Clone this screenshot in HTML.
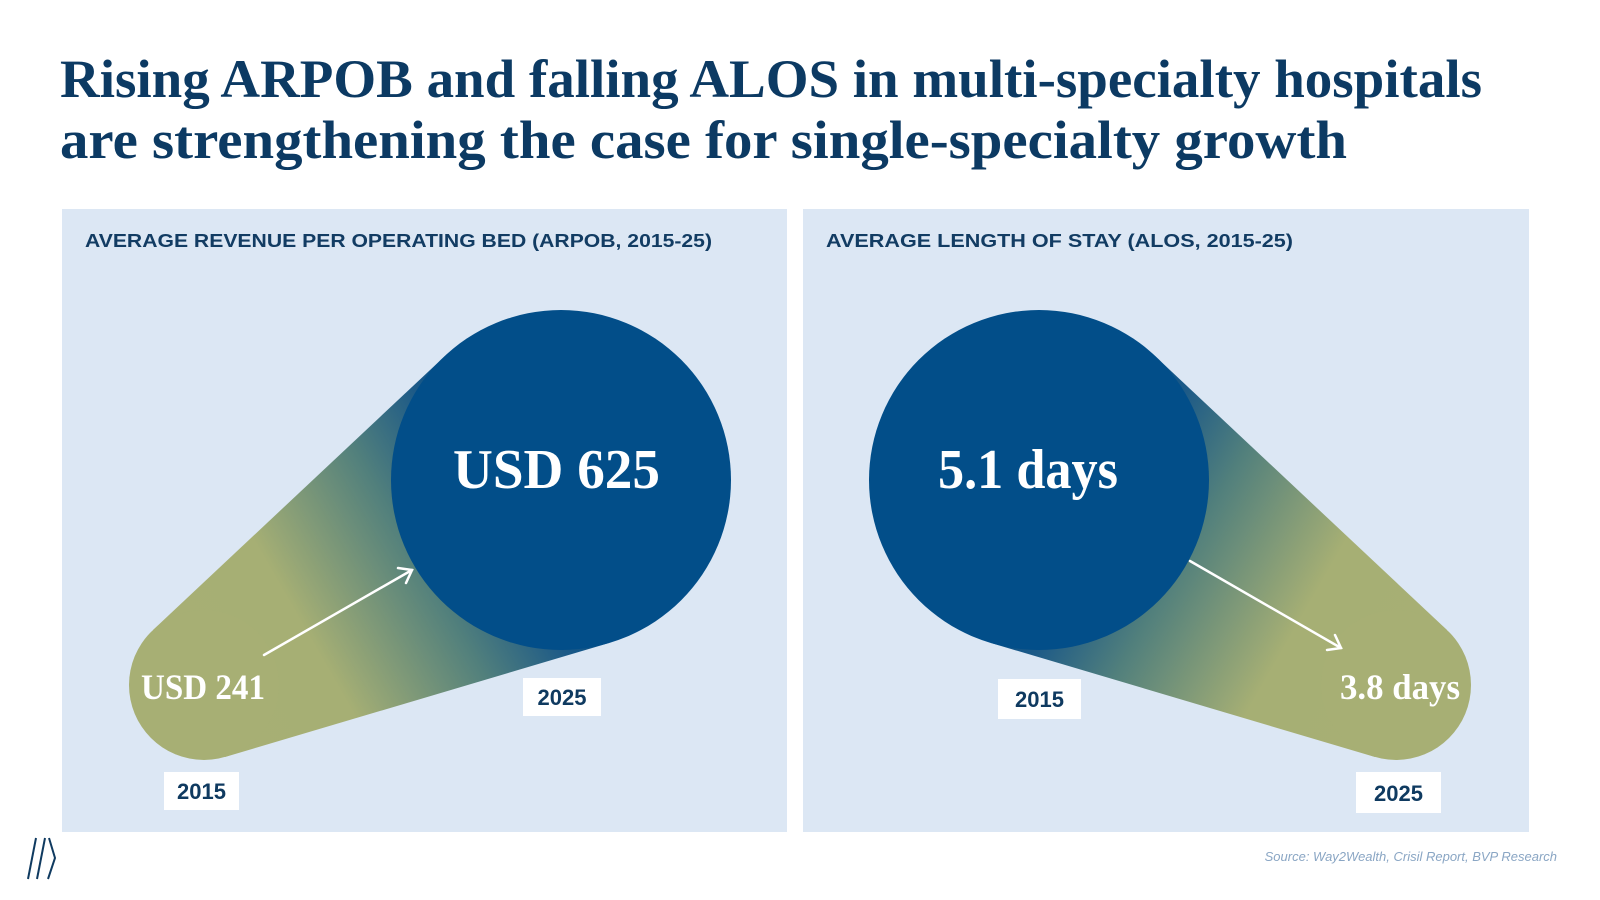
<!DOCTYPE html>
<html><head><meta charset="utf-8"><style>html,body{margin:0;padding:0;background:#fff;}svg{display:block}</style></head>
<body>
<svg width="1600" height="900" viewBox="0 0 1600 900" xmlns="http://www.w3.org/2000/svg">
<defs>
<linearGradient id="g1" gradientUnits="userSpaceOnUse" x1="204" y1="685" x2="561" y2="480">
<stop offset="0" stop-color="#a7af74"/>
<stop offset="0.28" stop-color="#a6af74"/>
<stop offset="0.6" stop-color="#52807c"/>
<stop offset="0.8" stop-color="#1d5a87"/>
<stop offset="0.92" stop-color="#024e89"/>
</linearGradient>
</defs>
<g font-family="Liberation Serif, serif" font-weight="bold" fill="#0c3a63">
<text x="60" y="97" font-size="54" textLength="1422" lengthAdjust="spacingAndGlyphs">Rising ARPOB and falling ALOS in multi-specialty hospitals</text>
<text x="60" y="158" font-size="54" textLength="1287" lengthAdjust="spacingAndGlyphs">are strengthening the case for single-specialty growth</text>
</g>
<rect x="62" y="209" width="725" height="623" fill="#dce7f4"/>
<rect x="803" y="209" width="726" height="623" fill="#dce7f4"/>
<g font-family="Liberation Sans, sans-serif" font-weight="bold" fill="#123c63" font-size="18">
<text x="85" y="247" textLength="627" lengthAdjust="spacingAndGlyphs">AVERAGE REVENUE PER OPERATING BED (ARPOB, 2015-25)</text>
<text x="826" y="247" textLength="467" lengthAdjust="spacingAndGlyphs">AVERAGE LENGTH OF STAY (ALOS, 2015-25)</text>
</g>
<g>
<polygon points="153,630 445,356 609,643 225,757" fill="url(#g1)"/>
<circle cx="204" cy="685" r="75" fill="#a7af74"/>
<circle cx="561" cy="480" r="170" fill="#024e89"/>
</g>
<g transform="translate(1600,0) scale(-1,1)">
<polygon points="153,630 445,356 609,643 225,757" fill="url(#g1)"/>
<circle cx="204" cy="685" r="75" fill="#a7af74"/>
<circle cx="561" cy="480" r="170" fill="#024e89"/>
</g>
<g stroke="#fff" stroke-width="2.5" fill="none" stroke-linecap="round">
<line x1="264" y1="655" x2="412" y2="570"/>
<polyline points="398,568 412,570 406,583"/>
<line x1="1190" y1="561" x2="1341" y2="648"/>
<polyline points="1327,650 1341,648 1335,635"/>
</g>
<g font-family="Liberation Serif, serif" font-weight="bold" fill="#fff">
<text x="453" y="488" font-size="56" textLength="207" lengthAdjust="spacingAndGlyphs">USD 625</text>
<text x="938" y="488" font-size="56" textLength="180" lengthAdjust="spacingAndGlyphs">5.1 days</text>
<text x="141" y="699" font-size="36" textLength="124" lengthAdjust="spacingAndGlyphs">USD 241</text>
<text x="1340" y="699" font-size="36" textLength="120" lengthAdjust="spacingAndGlyphs">3.8 days</text>
</g>
<g fill="#fff">
<rect x="164" y="772" width="75" height="38"/>
<rect x="523" y="678" width="78" height="38"/>
<rect x="998" y="679" width="83" height="40"/>
<rect x="1356" y="772" width="85" height="41"/>
</g>
<g font-family="Liberation Sans, sans-serif" font-weight="bold" fill="#0f3a60" font-size="22" text-anchor="middle">
<text x="201.5" y="799">2015</text>
<text x="562" y="705">2025</text>
<text x="1039.5" y="707">2015</text>
<text x="1398.5" y="801">2025</text>
</g>
<g stroke="#0f3a60" stroke-width="2" fill="none">
<line x1="36" y1="838" x2="28" y2="879"/>
<line x1="45" y1="838" x2="37" y2="879"/>
<polyline points="49,838 55,858 48,879"/>
</g>
<text x="1557" y="861" text-anchor="end" font-family="Liberation Sans, sans-serif" font-style="italic" font-size="13" fill="#8aa6c4">Source: Way2Wealth, Crisil Report, BVP Research</text>
</svg>
</body></html>
